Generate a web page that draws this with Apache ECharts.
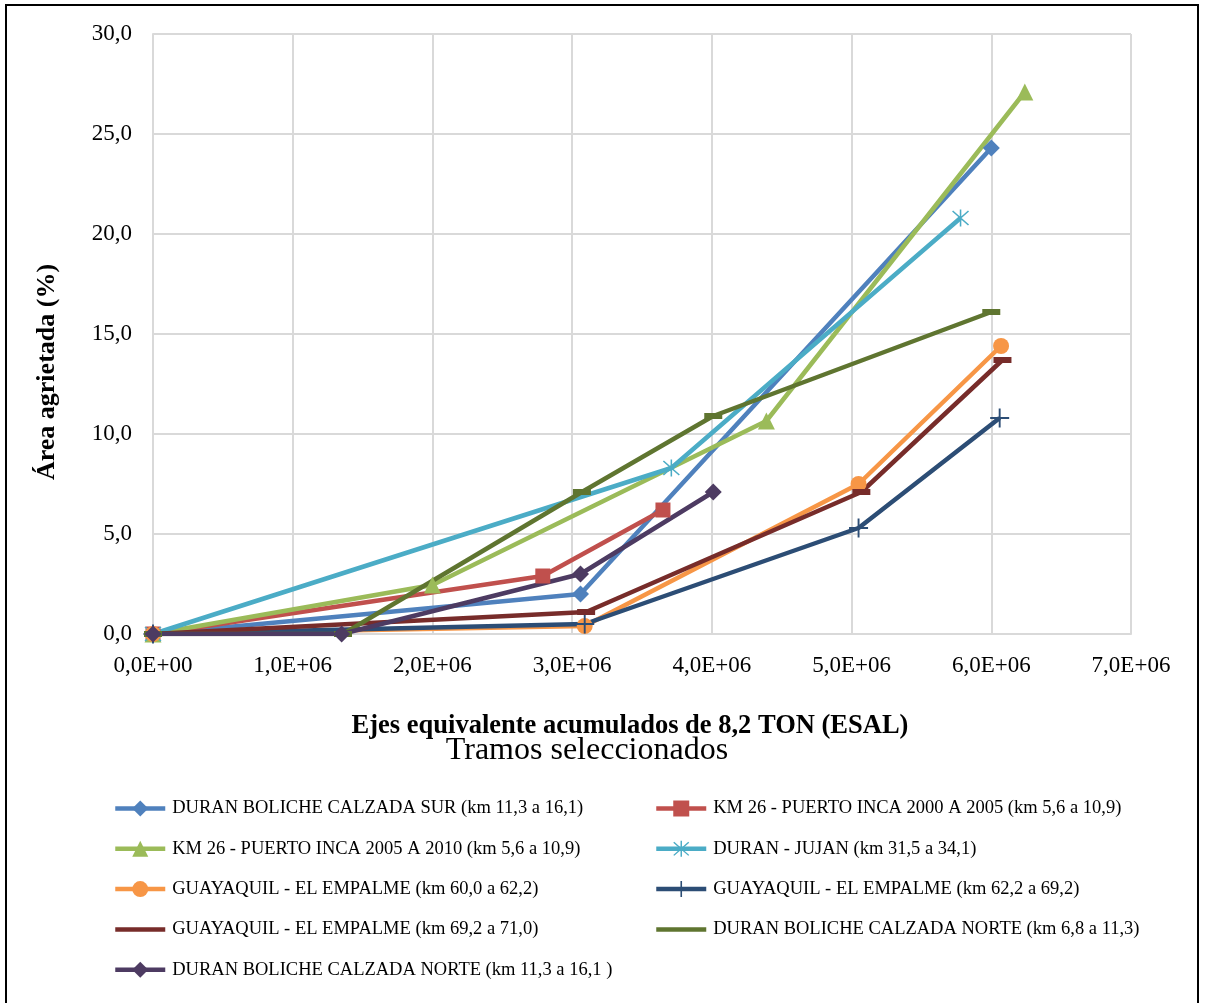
<!DOCTYPE html>
<html>
<head>
<meta charset="utf-8">
<script src="https://cdn.jsdelivr.net/npm/echarts@6/dist/echarts.min.js"></script>
<style>
  html, body { margin: 0; padding: 0; background: #fff; }
  #chart { width: 1205px; height: 1003px; }
</style>
</head>
<body>
<div id="chart"></div>
<script>
// Cumulative 8.2 t ESAL (x) vs. cracked area % (y) for each selected road section
const names = [
  'DURAN BOLICHE CALZADA SUR (km 11,3 a 16,1)',
  'KM 26 - PUERTO INCA 2000 A 2005 (km 5,6 a 10,9)',
  'KM 26 - PUERTO INCA 2005 A 2010 (km 5,6 a 10,9)',
  'DURAN - JUJAN (km 31,5 a 34,1)',
  'GUAYAQUIL - EL EMPALME (km 60,0 a 62,2)',
  'GUAYAQUIL - EL EMPALME (km 62,2 a 69,2)',
  'GUAYAQUIL - EL EMPALME (km 69,2 a 71,0)',
  'DURAN BOLICHE CALZADA NORTE (km 6,8 a 11,3)',
  'DURAN BOLICHE CALZADA NORTE (km 11,3 a 16,1 )'
];

const esalSur      = [0, 3.06e6, 6.0e6];
const areaSur      = [0, 2.0, 24.3];
const esalInca0005 = [0, 2.79e6, 3.65e6];
const areaInca0005 = [0, 2.9, 6.2];
const esalInca0510 = [0, 2.0e6, 4.39e6, 6.24e6];
const areaInca0510 = [0, 2.45, 10.65, 27.1];
const esalJujan    = [0, 3.71e6, 5.78e6];
const areaJujan    = [0, 8.3, 20.8];
const esalEmp60    = [0, 3.09e6, 5.05e6, 6.07e6];
const areaEmp60    = [0, 0.4, 7.5, 14.4];
const esalEmp62    = [0, 3.09e6, 5.05e6, 6.06e6];
const areaEmp62    = [0, 0.5, 5.3, 10.8];
const esalEmp69    = [0, 3.1e6, 5.07e6, 6.08e6];
const areaEmp69    = [0, 1.1, 7.1, 13.7];
const esalNorte68  = [0, 1.36e6, 3.07e6, 4.01e6, 6.0e6];
const areaNorte68  = [0, 0.0, 7.1, 10.9, 16.1];
const esalNorte113 = [0, 1.35e6, 3.06e6, 4.01e6];
const areaNorte113 = [0, 0.0, 3.0, 7.1];

const xTicks = [0, 1e6, 2e6, 3e6, 4e6, 5e6, 6e6, 7e6];
const yTicks = [0, 5, 10, 15, 20, 25, 30];

const pairs = (xs, ys) => xs.map((x, i) => [x, ys[i]]);

// marker shapes
const PLUS = 'path://M9,0 h2 v9 h9 v2 h-9 v9 h-2 v-9 h-9 v-2 h9 z';
const DASH = 'path://M0,0 h20 v6 h-20 z';
const STAR = 'path://M9.2,0 h1.6 v20 h-1.6 z M1.2,2.3 L2.3,1.2 L18.8,17.7 L17.7,18.8 z M17.7,1.2 L18.8,2.3 L2.3,18.8 L1.2,17.7 z';

const styles = [
  { c: '#4F81BD', s: 'diamond', z: 17 },
  { c: '#C0504D', s: 'rect', z: 15 },
  { c: '#9BBB59', s: 'triangle', z: 17 },
  { c: '#4BACC6', s: STAR, z: 17 },
  { c: '#F79646', s: 'circle', z: 16 },
  { c: '#2C4D75', s: PLUS, z: 19 },
  { c: '#772C2A', s: DASH, z: [18, 6] },
  { c: '#5F7530', s: DASH, z: [18, 6] },
  { c: '#4D3B62', s: 'diamond', z: 17 }
];

const dataSets = [
  pairs(esalSur, areaSur),
  pairs(esalInca0005, areaInca0005),
  pairs(esalInca0510, areaInca0510),
  pairs(esalJujan, areaJujan),
  pairs(esalEmp60, areaEmp60),
  pairs(esalEmp62, areaEmp62),
  pairs(esalEmp69, areaEmp69),
  pairs(esalNorte68, areaNorte68),
  pairs(esalNorte113, areaNorte113)
];

const series = dataSets.map((d, i) => ({
  name: names[i],
  type: 'line',
  data: d,
  symbol: styles[i].s,
  symbolSize: styles[i].z,
  showAllSymbol: true,
  lineStyle: { color: styles[i].c, width: 4.5 },
  itemStyle: { color: styles[i].c },
  emphasis: { disabled: true },
  animation: false
}));

const serif = 'Liberation Serif, Times New Roman, serif';
const fmtX = v => v === 0 ? '0,0E+00' : (v / 1e6).toFixed(1).replace('.', ',') + 'E+06';
const fmtY = v => v.toFixed(1).replace('.', ',');

// dash-marker series show a plain line in the legend
const legendItem = i => (styles[i].s === DASH
  ? { name: names[i], itemStyle: { opacity: 0 } }
  : { name: names[i] });

const legendCommon = {
  orient: 'vertical',
  itemWidth: 50,
  itemHeight: 20,
  itemGap: 21.3,
  lineStyle: { width: 4.5 },
  textStyle: { fontFamily: serif, fontSize: 18.5, color: '#000', padding: [0, 0, 0, 2] }
};

const chart = echarts.init(document.getElementById('chart'), null, { renderer: 'canvas' });
chart.setOption({
  backgroundColor: '#fff',
  animation: false,
  grid: { left: 153, right: 74, top: 34, bottom: 369 },
  xAxis: {
    type: 'value',
    min: xTicks[0], max: xTicks[xTicks.length - 1], interval: xTicks[1] - xTicks[0],
    axisLine: { show: true, lineStyle: { color: '#d9d9d9', width: 2 } },
    axisTick: { show: false },
    splitLine: { show: true, lineStyle: { color: '#d9d9d9', width: 2 } },
    axisLabel: { formatter: fmtX, fontFamily: serif, fontSize: 23, color: '#000', margin: 20 }
  },
  yAxis: {
    type: 'value',
    min: yTicks[0], max: yTicks[yTicks.length - 1], interval: yTicks[1] - yTicks[0],
    axisLine: { show: true, lineStyle: { color: '#d9d9d9', width: 2 } },
    axisTick: { show: false },
    splitLine: { show: true, lineStyle: { color: '#d9d9d9', width: 2 } },
    axisLabel: { formatter: fmtY, fontFamily: serif, fontSize: 23, color: '#000', margin: 21 }
  },
  legend: [
    Object.assign({ left: 108, top: 794, data: [0, 2, 4, 6, 8].map(legendItem) }, legendCommon),
    Object.assign({ left: 649, top: 794, data: [1, 3, 5, 7].map(legendItem) }, legendCommon)
  ],
  graphic: [
    { type: 'rect', shape: { x: 6, y: 5, width: 1192, height: 1010 }, style: { fill: 'none', stroke: '#000', lineWidth: 2 }, silent: true },
    { type: 'text', x: 47, y: 372, rotation: Math.PI / 2,
      style: { text: 'Área agrietada (%)', font: 'bold 26px ' + serif, fill: '#000', align: 'center', verticalAlign: 'middle' } },
    { type: 'text', x: 630, y: 726,
      style: { text: 'Ejes equivalente acumulados de 8,2 TON (ESAL)', font: 'bold 26.5px ' + serif, fill: '#000', align: 'center', verticalAlign: 'middle' } },
    { type: 'text', x: 587, y: 751,
      style: { text: 'Tramos seleccionados', font: '32px ' + serif, fill: '#000', align: 'center', verticalAlign: 'middle' } }
  ],
  series: series
});
</script>
</body>
</html>
